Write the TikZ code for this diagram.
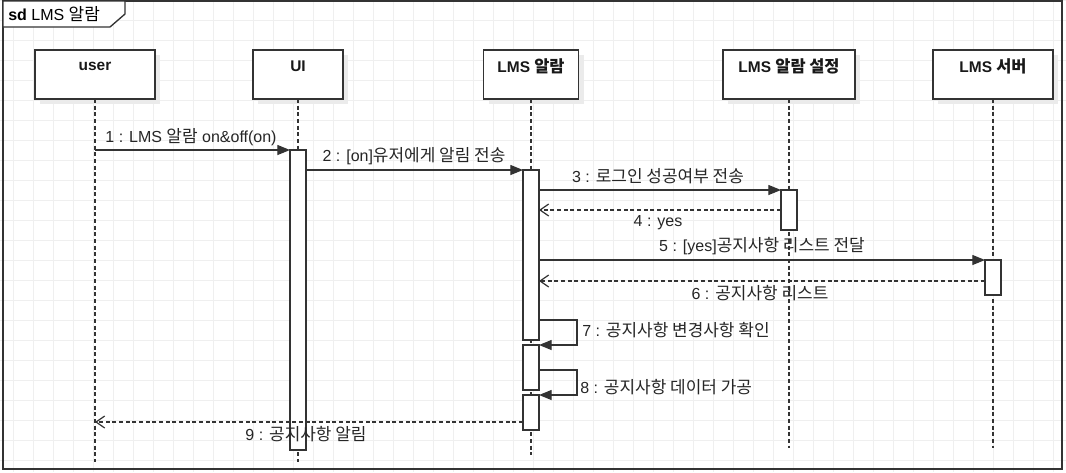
\documentclass[tikz,border=0pt]{standalone}
\usepackage{fontspec}
\setmainfont{Liberation Sans}
\newfontfamily\kr[Scale=1.06]{Noto Sans CJK KR}
\usetikzlibrary{arrows.meta,calc}
\newcommand{\K}[1]{{\kr #1}}
\definecolor{ln}{HTML}{333333}
\definecolor{gridc}{HTML}{EFEFEF}
\definecolor{shd}{HTML}{EBEBEB}
\pgfdeclarelayer{bg}
\pgfsetlayers{bg,main}
\begin{document}
\begin{tikzpicture}[x=0.75pt,y=-0.75pt,
  hdr/.style={draw=ln,line width=1pt,fill=white,inner sep=0pt,outer sep=0pt,minimum height=36.75pt},
  hdrtxt/.style={font=\bfseries\fontsize{11.6pt}{13pt}\selectfont,text=black!90,inner sep=0pt},
  act/.style={draw=ln,line width=0.9pt,fill=white,inner sep=0pt,outer sep=0pt,minimum width=12pt,anchor=north},
  life/.style={draw=ln,line width=0.9pt,dash pattern=on 3pt off 2pt},
  call/.style={draw=ln,line width=0.9pt,-{Triangle[length=9.5pt,width=7.5pt]}},
  ret/.style={draw=ln,line width=0.9pt,dash pattern=on 3pt off 2pt,-{Straight Barb[length=6.5pt,width=9pt,line width=0.9pt]}},
  lbl/.style={font=\fontsize{12pt}{14pt}\selectfont,text=black!85,inner sep=0pt}]
\useasboundingbox (0,0) rectangle (1066,472);
\begin{pgfonlayer}{bg}
\fill[white] (0,0) rectangle (1066,472);
\foreach \gx in {13,33,...,1066} \draw[gridc,line width=0.75pt] (\gx,0) -- (\gx,472);
\foreach \gy in {0,20,...,472} \draw[gridc,line width=0.75pt] (0,\gy) -- (1066,\gy);
\end{pgfonlayer}
% frame
\draw[ln,line width=1.3pt] (3,1) rectangle (1062,469);
\draw[ln,line width=1pt,fill=white] (3,1) -- (125,1) -- (125,14) -- (110,27) -- (3,27) -- cycle;
\node[anchor=west,inner sep=0pt,font=\fontsize{12pt}{14pt}\selectfont] (title) at (8,14) {\textbf{sd} LMS \K{알람}};
% heads
\node[hdr,minimum width=90pt] (user) at (95,74.5) {};
\node[hdr,minimum width=67.5pt] (ui) at (298,74.5) {};
\node[hdr,minimum width=71.25pt] (lms) at (531,74.5) {};
\node[hdr,minimum width=99pt] (set) at (789,74.5) {};
\node[hdr,minimum width=90pt] (srv) at (993,74.5) {};
\begin{pgfonlayer}{bg}
\foreach \h in {user,ui,lms,set,srv}
  \fill[shd] ($(\h.south west)+(5,5)$) rectangle ($(\h.north east)+(5,5)$);
\end{pgfonlayer}
\node[hdrtxt] (userT) at (95,66) {user};
\node[hdrtxt] (uiT) at (298,66) {UI};
\node[hdrtxt] (lmsT) at (531,66) {LMS \K{알람}};
\node[hdrtxt] (setT) at (789,66) {LMS \K{알람 설정}};
\node[hdrtxt] (srvT) at (993,66) {LMS \K{서버}};
% lifeline ends
\coordinate (userE) at (95,462);
\coordinate (uiE) at (298,462);
\coordinate (lmsE) at (531,455);
\coordinate (setE) at (789,448);
\coordinate (srvE) at (993,448);
\draw[life] (user.south) -- (userE);
\draw[life] (ui.south) -- (uiE);
\draw[life] (lms.south) -- (lmsE);
\draw[life] (set.south) -- (setE);
\draw[life] (srv.south) -- (srvE);
% activations
\node[act,minimum height=225pt] (aUI) at (298,150) {};
\node[act,minimum height=127.5pt] (a1) at (531,170) {};
\node[act,minimum height=30pt] (s1) at (789,190) {};
\node[act,minimum height=26.25pt] (v1) at (993,260) {};
\node[act,minimum height=33.75pt] (a2) at (531,345) {};
\node[act,minimum height=26.25pt] (a3) at (531,395) {};
% messages
\coordinate (u1) at (95,150);
\draw[call] (u1) -- (aUI.north west);
\node[lbl] (l1) at (191,137) {1 : LMS \K{알람} on\&off(on)};
\draw[call] (a1.north west -| aUI.east) -- (a1.north west);
\node[lbl] (l2) at (414,156) {2 : [on]\K{유저에게 알림 전송}};
\draw[call] (s1.north west -| a1.east) -- (s1.north west);
\node[lbl] (l3) at (658,176) {3 : \K{로그인 성공여부 전송}};
\draw[ret] (s1.west) -- (s1.west -| a1.east);
\node[lbl] (l4) at (658,223) {4 : yes};
\draw[call] (v1.north west -| a1.east) -- (v1.north west);
\node[lbl] (l5) at (762,246) {5 : [yes]\K{공지사항 리스트 전달}};
\coordinate (r6) at ($(v1.north west)+(0,21)$);
\draw[ret] (r6) -- (r6 -| a1.east);
\node[lbl] (l6) at (760,293) {6 : \K{공지사항 리스트}};
\coordinate (m7) at ($(a1.south east)+(0,-20)$);
\draw[call] (m7) -- ++(38,0) |- (a2.north east);
\node[lbl,anchor=west] (l7) at (582,330) {7 : \K{공지사항 변경사항 확인}};
\coordinate (m8) at ($(a2.north east)+(0,25)$);
\draw[call] (m8) -- ++(38,0) |- (a3.north east);
\node[lbl,anchor=west] (l8) at (580,387) {8 : \K{공지사항 데이터 가공}};
\coordinate (m9) at ($(a3.north west)+(0,27)$);
\draw[ret] (m9) -- (m9 -| userE);
\node[lbl] (l9) at (306,434) {9 : \K{공지사항 알림}};
\end{tikzpicture}
\end{document}
